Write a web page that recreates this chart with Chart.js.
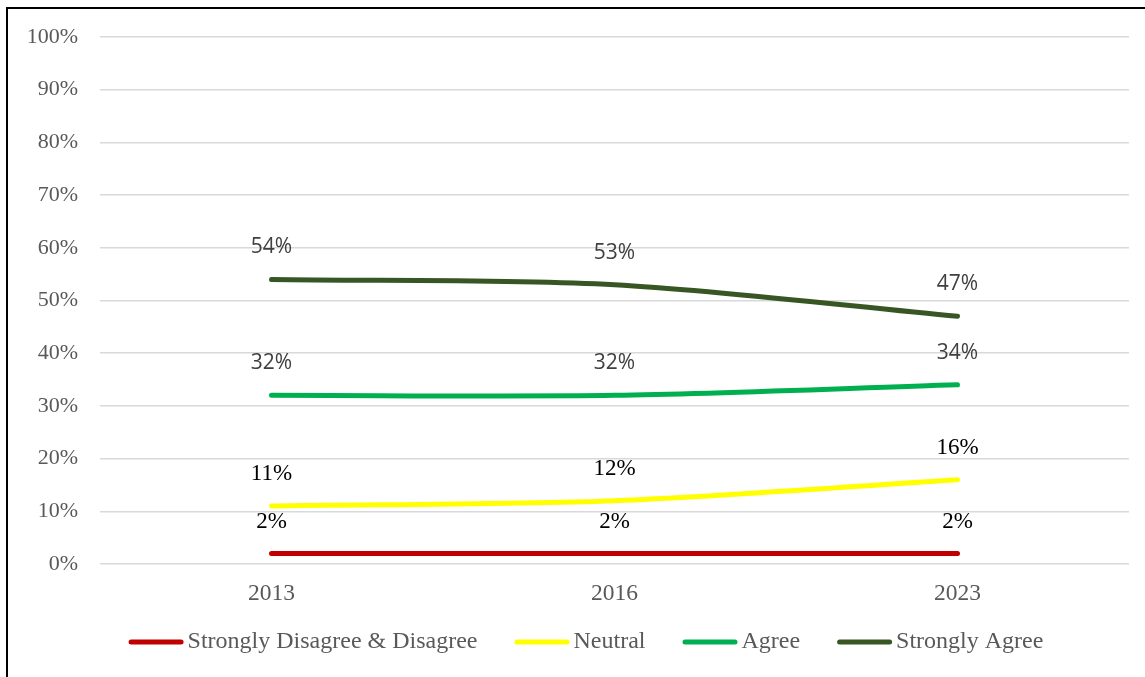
<!DOCTYPE html>
<html>
<head>
<meta charset="utf-8">
<script src="https://cdn.jsdelivr.net/npm/chart.js@4.4.0/dist/chart.umd.min.js"></script>
<style>
  body { margin: 0; background: #fff; }
  #wrap { position: relative; width: 1145px; height: 677px; overflow: hidden; }
  #frame { position: absolute; left: 6px; top: 7px; width: 1200px; height: 700px; border: 2px solid #000; }
  #c { position: absolute; left: 0; top: 0; }
</style>
</head>
<body>
<div id="wrap">
  <div id="frame"></div>
  <canvas id="c" width="1145" height="677"></canvas>
</div>
<script>
const years = ['2013', '2016', '2023'];

const disagree = [2, 2, 2];
const neutral = [11, 12, 16];
const agree = [32, 32, 34];
const stronglyAgree = [54, 53, 47];

const seriesNames = ['Strongly Disagree & Disagree', 'Neutral', 'Agree', 'Strongly Agree'];

const serif = '"Liberation Serif", "Times New Roman", serif';
const serifLabel = { font: '23px ' + serif, color: '#000000' };
const sansLabel = { font: '21px "Open Sans", sans-serif', color: '#404040' };

function line(name, values, color, lbl) {
  return {
    label: name,
    data: values,
    borderColor: color,
    backgroundColor: color,
    borderWidth: 5,
    borderCapStyle: 'round',
    pointRadius: 0,
    pointHoverRadius: 0,
    tension: 0.3,
    lbl: lbl
  };
}

// draws the value above each point
const valueLabels = {
  id: 'valueLabels',
  afterDatasetsDraw(chart) {
    const ctx = chart.ctx;
    ctx.save();
    ctx.textAlign = 'center';
    ctx.textBaseline = 'middle';
    chart.data.datasets.forEach((ds, i) => {
      const meta = chart.getDatasetMeta(i);
      ctx.font = ds.lbl.font;
      ctx.fillStyle = ds.lbl.color;
      meta.data.forEach((pt, j) => {
        ctx.fillText(ds.data[j] + '%', pt.x, pt.y - 32);
      });
    });
    ctx.restore();
  }
};

// excel style legend: short line, small gap, text
const lineLegend = {
  id: 'lineLegend',
  afterDraw(chart) {
    const ctx = chart.ctx;
    const sw = 55, gap = 4, spacing = 37, y = 642;
    ctx.save();
    ctx.font = '24px ' + serif;
    ctx.textBaseline = 'middle';
    const items = chart.data.datasets.map(ds => ({ ds, w: ctx.measureText(ds.label).width }));
    let total = items.reduce((a, it) => a + sw + gap + it.w, 0) + spacing * (items.length - 1);
    let x = 586 - total / 2;
    items.forEach(it => {
      ctx.strokeStyle = it.ds.borderColor;
      ctx.lineWidth = 5;
      ctx.lineCap = 'round';
      ctx.beginPath();
      ctx.moveTo(x + 2.5, y);
      ctx.lineTo(x + sw - 2.5, y);
      ctx.stroke();
      ctx.fillStyle = '#595959';
      ctx.fillText(it.ds.label, x + sw + gap, y);
      x += sw + gap + it.w + spacing;
    });
    ctx.restore();
  }
};

new Chart(document.getElementById('c'), {
  type: 'line',
  data: {
    labels: years,
    datasets: [
      line(seriesNames[0], disagree, '#C00000', serifLabel),
      line(seriesNames[1], neutral, '#FFFF00', serifLabel),
      line(seriesNames[2], agree, '#00B050', sansLabel),
      line(seriesNames[3], stronglyAgree, '#375623', sansLabel)
    ]
  },
  options: {
    responsive: false,
    animation: false,
    layout: { padding: { left: 0, right: 16, top: 37, bottom: 57 } },
    scales: {
      x: {
        offset: true,
        grid: { display: false, drawTicks: false },
        border: { display: false },
        ticks: { color: '#595959', font: { family: serif, size: 23.5 }, padding: 16 },
        afterFit(s) { s.height = 56; }
      },
      y: {
        min: 0,
        max: 100,
        grid: { color: '#d9d9d9', lineWidth: 1.5, drawTicks: false },
        border: { display: false },
        ticks: {
          stepSize: 10,
          color: '#595959',
          font: { family: serif, size: 22 },
          padding: 22,
          callback: v => v + '%'
        },
        afterFit(s) { s.width = 100; }
      }
    },
    plugins: {
      tooltip: { enabled: false },
      legend: { display: false }
    }
  },
  plugins: [valueLabels, lineLegend]
});
</script>
</body>
</html>
